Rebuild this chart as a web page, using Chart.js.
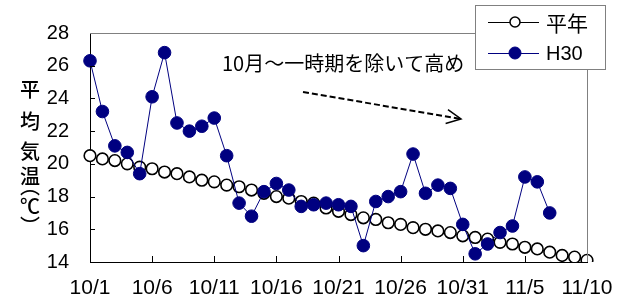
<!DOCTYPE html>
<html>
<head>
<meta charset="utf-8">
<script src="https://cdn.jsdelivr.net/npm/chart.js@4"></script>
<style>
  body { margin: 0; background: #fff; }
</style>
</head>
<body>
<canvas id="grafico" width="635" height="302"></canvas>
<script>
// fechas 10/1 - 11/10
var fechas = ['10/1','10/2','10/3','10/4','10/5','10/6','10/7','10/8','10/9','10/10',
  '10/11','10/12','10/13','10/14','10/15','10/16','10/17','10/18','10/19','10/20',
  '10/21','10/22','10/23','10/24','10/25','10/26','10/27','10/28','10/29','10/30',
  '10/31','11/1','11/2','11/3','11/4','11/5','11/6','11/7','11/8','11/9','11/10'];

var heinen = [20.5, 20.3, 20.2, 20.0, 19.8, 19.7, 19.5, 19.4, 19.2, 19.0,
  18.9, 18.7, 18.6, 18.4, 18.2, 18.0, 17.9, 17.7, 17.6, 17.3,
  17.1, 16.9, 16.7, 16.6, 16.4, 16.3, 16.1, 16.0, 15.9, 15.8,
  15.6, 15.5, 15.4, 15.2, 15.1, 14.9, 14.8, 14.6, 14.4, 14.3, 14.1];

var h30 = [26.3, 23.2, 21.1, 20.7, 19.4, 24.1, 26.8, 22.5, 22.0, 22.3,
  22.8, 20.5, 17.6, 16.8, 18.3, 18.8, 18.4, 17.4, 17.5, 17.6,
  17.5, 17.4, 15.0, 17.7, 18.0, 18.3, 20.6, 18.2, 18.7, 18.5,
  16.3, 14.5, 15.1, 15.8, 16.2, 19.2, 18.9, 17.0, null, null, null];

var nombres = ['平年', 'H30'];
var yMin = 14, yMax = 28, yPaso = 2;
var pasoFechas = 5;

var fuenteNum = '"Liberation Sans", Arial, sans-serif';
var fuenteJp = '"Noto Sans CJK JP", sans-serif';

var extras = {
  id: 'extras',
  afterDraw: function(chart) {
    var ctx = chart.ctx;
    var a = chart.chartArea;
    var x = chart.scales.x, y = chart.scales.y;
    ctx.save();

    // marco gris arriba y derecha
    ctx.strokeStyle = '#808080';
    ctx.lineWidth = 1;
    ctx.beginPath();
    ctx.moveTo(a.left, a.top + 0.5);
    ctx.lineTo(a.right + 0.5, a.top + 0.5);
    ctx.lineTo(a.right + 0.5, a.bottom);
    ctx.stroke();

    // marcas hacia dentro
    ctx.strokeStyle = '#000';
    ctx.beginPath();
    for (var i = pasoFechas; i < fechas.length - 1; i += pasoFechas) {
      var px = Math.round(x.getPixelForValue(i)) + 0.5;
      ctx.moveTo(px, a.bottom);
      ctx.lineTo(px, a.bottom - 6);
    }
    for (var v = yMin + yPaso; v < yMax; v += yPaso) {
      var py = Math.round(y.getPixelForValue(v)) + 0.5;
      ctx.moveTo(a.left, py);
      ctx.lineTo(a.left + 5, py);
    }
    ctx.stroke();

    // titulo vertical del eje y
    ctx.fillStyle = '#000';
    ctx.font = '500 20px ' + fuenteJp;
    ctx.textAlign = 'center';
    ctx.textBaseline = 'middle';
    var letras = [['平', 89], ['均', 121], ['気', 151], ['温', 176], ['︵', 186], ['℃', 206], ['︶', 226]];
    letras.forEach(function(l) { ctx.fillText(l[0], 30, l[1]); });

    // comentario
    ctx.font = '20px ' + fuenteJp;
    ctx.textAlign = 'left';
    ctx.fillText('10月～一時期を除いて高め', 222, 63);

    // flecha punteada
    var x0 = 303, y0 = 92, x1 = 461, y1 = 119;
    ctx.lineWidth = 2;
    ctx.setLineDash([6, 3]);
    ctx.beginPath();
    ctx.moveTo(x0, y0);
    ctx.lineTo(x1, y1);
    ctx.stroke();
    ctx.setLineDash([]);
    var ang = Math.atan2(y1 - y0, x1 - x0);
    ctx.lineWidth = 1.5;
    ctx.beginPath();
    ctx.moveTo(x1 - 16 * Math.cos(ang - 0.45), y1 - 16 * Math.sin(ang - 0.45));
    ctx.lineTo(x1, y1);
    ctx.lineTo(x1 - 16 * Math.cos(ang + 0.45), y1 - 16 * Math.sin(ang + 0.45));
    ctx.stroke();

    // leyenda
    var lx = 475, ly = 5, lw = 130, lh = 64;
    ctx.fillStyle = '#fff';
    ctx.fillRect(lx, ly, lw, lh);
    ctx.strokeStyle = '#808080';
    ctx.lineWidth = 1;
    ctx.strokeRect(lx + 0.5, ly + 0.5, lw, lh);
    chart.data.datasets.forEach(function(ds, k) {
      var cy = k === 0 ? 22 : 53;
      ctx.strokeStyle = ds.borderColor;
      ctx.lineWidth = 1;
      ctx.beginPath();
      ctx.moveTo(488, cy + 0.5);
      ctx.lineTo(539, cy + 0.5);
      ctx.stroke();
      ctx.beginPath();
      ctx.arc(515, cy, k === 0 ? 5 : 6, 0, Math.PI * 2);
      ctx.fillStyle = ds.pointBackgroundColor;
      ctx.fill();
      ctx.strokeStyle = ds.pointBorderColor;
      ctx.lineWidth = k === 0 ? 1.5 : 1;
      ctx.stroke();
      ctx.fillStyle = '#000';
      ctx.font = k === 0 ? ('21px ' + fuenteJp) : ('20px ' + fuenteNum);
      ctx.textAlign = 'left';
      ctx.textBaseline = 'middle';
      ctx.fillText(ds.label, 546, cy + 1);
    });

    ctx.restore();
  }
};

var ctx = document.getElementById('grafico').getContext('2d');
var grafico = new Chart(ctx, {
  type: 'line',
  data: {
    labels: fechas,
    datasets: [{
      label: nombres[0],
      data: heinen,
      borderColor: '#000000',
      borderWidth: 1,
      pointBackgroundColor: '#ffffff',
      pointBorderColor: '#000000',
      pointBorderWidth: 1.6,
      pointRadius: 5.8,
      tension: 0,
      order: 1
    }, {
      label: nombres[1],
      data: h30,
      borderColor: '#000080',
      borderWidth: 1,
      pointBackgroundColor: '#000080',
      pointBorderColor: '#000080',
      pointBorderWidth: 1,
      pointRadius: 6.3,
      tension: 0,
      spanGaps: false,
      order: 0
    }]
  },
  options: {
    responsive: false,
    animation: false,
    layout: { padding: { left: 0, right: 48, top: 16, bottom: 0 } },
    plugins: {
      legend: { display: false },
      tooltip: { enabled: false }
    },
    scales: {
      x: {
        offset: false,
        grid: { display: false, drawTicks: false },
        border: { color: '#000', width: 1 },
        ticks: {
          autoSkip: false,
          maxRotation: 0,
          padding: 14,
          color: '#000',
          font: { family: fuenteNum, size: 21 },
          callback: function(val, i) { return i % pasoFechas === 0 ? fechas[i] : ''; }
        },
        afterFit: function(s) { s.height = 40; }
      },
      y: {
        min: yMin,
        max: yMax,
        grid: { display: false, drawTicks: false },
        border: { color: '#000', width: 1 },
        ticks: {
          stepSize: yPaso,
          padding: 21,
          color: '#000',
          font: { family: fuenteNum, size: 20 }
        },
        afterFit: function(s) { s.width = 90; }
      }
    }
  },
  plugins: [extras]
});
</script>
</body>
</html>
